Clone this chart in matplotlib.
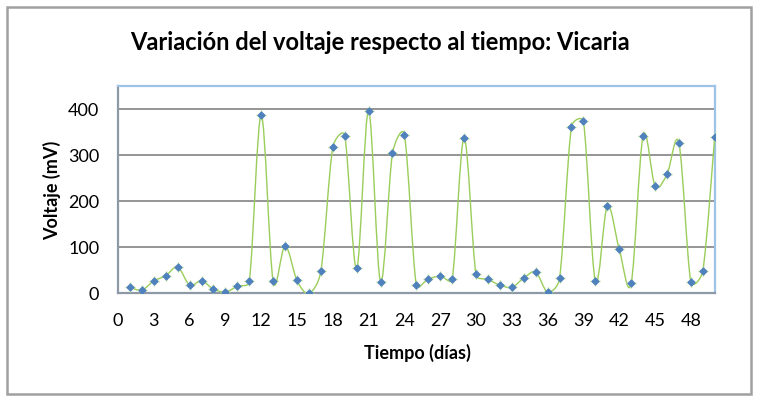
import numpy as np
import matplotlib
matplotlib.use("Agg")
import matplotlib.pyplot as plt
from matplotlib.path import Path
from matplotlib.patches import PathPatch, Rectangle

# datos (dia, voltaje en mV)
dias = list(range(1, 51))
voltaje = [13, 7, 27, 38, 57, 18, 27, 9, 3, 15,
           26, 387, 26, 103, 28, 0, 48, 317, 342, 54,
           396, 25, 304, 344, 17, 31, 37, 30, 337, 41,
           30, 18, 13, 33, 46, 3, 33, 362, 373, 26,
           189, 96, 22, 342, 234, 258, 326, 25, 48, 339]
xticks = list(range(0, 49, 3))
yticks = [0, 100, 200, 300, 400]

plt.rcParams['font.family'] = ['Lato', 'DejaVu Sans']

fig = plt.figure(figsize=(7.59, 4.0), dpi=100)
ax = fig.add_axes([118 / 759, 1 - 293.3 / 400, (714.7 - 118) / 759, (293.3 - 86) / 400])
ax.set_xlim(0, 50)
ax.set_ylim(0, 450)


def excel_smooth(xs, ys):
    # curva suavizada al estilo Excel: bezier, puntos de control calculados
    # en pixeles y limitados a la mitad del tramo
    pts = ax.transData.transform(np.column_stack([xs, ys]))
    n = len(pts)
    verts = [pts[0]]
    codes = [Path.MOVETO]
    for i in range(n - 1):
        p0 = pts[max(i - 1, 0)]
        p1 = pts[i]
        p2 = pts[i + 1]
        p3 = pts[min(i + 2, n - 1)]
        d12 = np.hypot(*(p2 - p1))
        d02 = np.hypot(*(p2 - p0))
        d13 = np.hypot(*(p3 - p1))
        f1 = 1 / 6 if d02 / 6 < d12 / 2 else (d12 / 2) / d02 if d02 > 0 else 0
        f2 = 1 / 6 if d13 / 6 < d12 / 2 else (d12 / 2) / d13 if d13 > 0 else 0
        c1 = p1 + (p2 - p0) * f1
        c2 = p2 - (p3 - p1) * f2
        verts += [c1, c2, p2]
        codes += [Path.CURVE4] * 3
    verts = ax.transData.inverted().transform(np.array(verts))
    return Path(verts, codes)


ax.add_patch(PathPatch(excel_smooth(dias, voltaje), facecolor='none',
                       edgecolor='#9ACD5A', lw=1.0, zorder=3))

ax.plot(dias, voltaje, ls='none', marker='+', ms=7, mew=1.0,
        color='#B5DB8C', zorder=4)
ax.plot(dias, voltaje, ls='none', marker='D', ms=3.5,
        mfc='#4F81BD', mec='#4F81BD', zorder=5)

ax.set_xticks(xticks)
ax.set_yticks(yticks)
ax.tick_params(axis='both', length=0, labelsize=13, colors='black')
ax.tick_params(axis='x', pad=14)
ax.tick_params(axis='y', pad=13.5)
ax.yaxis.grid(True, color='#8C8C8C', lw=1.3)
ax.set_axisbelow(True)

for s in ['top', 'right']:
    ax.spines[s].set_color('#9DC3E6')
    ax.spines[s].set_linewidth(1.6)
for s in ['left', 'bottom']:
    ax.spines[s].set_color('#8E99A8')
    ax.spines[s].set_linewidth(1.6)

fig.text(0.5, 1 - 43 / 400, 'Variación del voltaje respecto al tiempo: Vicaria',
         ha='center', va='center', fontsize=17, fontweight='bold')
fig.text(417 / 759, 1 - 353 / 400, 'Tiempo (días)', ha='center', va='center',
         fontsize=13, fontweight='bold')
fig.text(52 / 759, 1 - 190 / 400, 'Voltaje (mV)', ha='center', va='center',
         rotation=90, fontsize=13, fontweight='bold')

# marco exterior del grafico
fig.patches.append(Rectangle((6.5 / 759, 1 - 393.5 / 400), (751 - 6.5) / 759, (393.5 - 6.5) / 400,
                             transform=fig.transFigure, fill=False,
                             edgecolor='#A0A0A0', lw=1.8))

fig.savefig('out.png', dpi=100)
